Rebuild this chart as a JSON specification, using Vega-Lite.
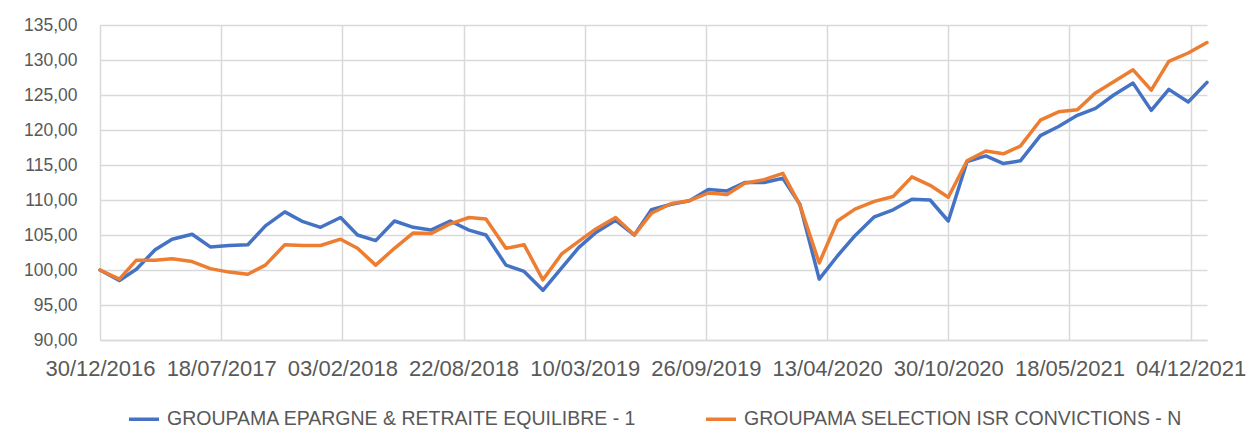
{
  "$schema": "https://vega.github.io/schema/vega-lite/v6.json",
  "width": 1107,
  "height": 315,
  "autosize": {"type": "none"},
  "padding": {"left": 100, "top": 25, "right": 42, "bottom": 93},
  "background": "white",
  "config": {"view": {"stroke": null}, "font": "Liberation Sans"},
  "data": {"values": [
    {"date": "2016-12-30T00:00", "s": "GROUPAMA EPARGNE & RETRAITE EQUILIBRE - 1", "v": 100.0},
    {"date": "2017-01-31T00:00", "s": "GROUPAMA EPARGNE & RETRAITE EQUILIBRE - 1", "v": 98.5},
    {"date": "2017-02-28T00:00", "s": "GROUPAMA EPARGNE & RETRAITE EQUILIBRE - 1", "v": 100.1},
    {"date": "2017-03-31T00:00", "s": "GROUPAMA EPARGNE & RETRAITE EQUILIBRE - 1", "v": 102.9},
    {"date": "2017-04-28T00:00", "s": "GROUPAMA EPARGNE & RETRAITE EQUILIBRE - 1", "v": 104.4},
    {"date": "2017-05-31T00:00", "s": "GROUPAMA EPARGNE & RETRAITE EQUILIBRE - 1", "v": 105.1},
    {"date": "2017-06-30T00:00", "s": "GROUPAMA EPARGNE & RETRAITE EQUILIBRE - 1", "v": 103.3},
    {"date": "2017-07-31T00:00", "s": "GROUPAMA EPARGNE & RETRAITE EQUILIBRE - 1", "v": 103.5},
    {"date": "2017-08-31T00:00", "s": "GROUPAMA EPARGNE & RETRAITE EQUILIBRE - 1", "v": 103.6},
    {"date": "2017-09-29T00:00", "s": "GROUPAMA EPARGNE & RETRAITE EQUILIBRE - 1", "v": 106.3},
    {"date": "2017-10-31T00:00", "s": "GROUPAMA EPARGNE & RETRAITE EQUILIBRE - 1", "v": 108.3},
    {"date": "2017-11-30T00:00", "s": "GROUPAMA EPARGNE & RETRAITE EQUILIBRE - 1", "v": 106.9},
    {"date": "2017-12-29T00:00", "s": "GROUPAMA EPARGNE & RETRAITE EQUILIBRE - 1", "v": 106.1},
    {"date": "2018-01-31T00:00", "s": "GROUPAMA EPARGNE & RETRAITE EQUILIBRE - 1", "v": 107.5},
    {"date": "2018-02-28T00:00", "s": "GROUPAMA EPARGNE & RETRAITE EQUILIBRE - 1", "v": 105.0},
    {"date": "2018-03-30T00:00", "s": "GROUPAMA EPARGNE & RETRAITE EQUILIBRE - 1", "v": 104.2},
    {"date": "2018-04-30T00:00", "s": "GROUPAMA EPARGNE & RETRAITE EQUILIBRE - 1", "v": 107.0},
    {"date": "2018-05-31T00:00", "s": "GROUPAMA EPARGNE & RETRAITE EQUILIBRE - 1", "v": 106.1},
    {"date": "2018-06-29T00:00", "s": "GROUPAMA EPARGNE & RETRAITE EQUILIBRE - 1", "v": 105.7},
    {"date": "2018-07-31T00:00", "s": "GROUPAMA EPARGNE & RETRAITE EQUILIBRE - 1", "v": 107.0},
    {"date": "2018-08-31T00:00", "s": "GROUPAMA EPARGNE & RETRAITE EQUILIBRE - 1", "v": 105.7},
    {"date": "2018-09-28T00:00", "s": "GROUPAMA EPARGNE & RETRAITE EQUILIBRE - 1", "v": 105.0},
    {"date": "2018-10-31T00:00", "s": "GROUPAMA EPARGNE & RETRAITE EQUILIBRE - 1", "v": 100.7},
    {"date": "2018-11-30T00:00", "s": "GROUPAMA EPARGNE & RETRAITE EQUILIBRE - 1", "v": 99.8},
    {"date": "2018-12-31T00:00", "s": "GROUPAMA EPARGNE & RETRAITE EQUILIBRE - 1", "v": 97.1},
    {"date": "2019-01-31T00:00", "s": "GROUPAMA EPARGNE & RETRAITE EQUILIBRE - 1", "v": 100.3},
    {"date": "2019-02-28T00:00", "s": "GROUPAMA EPARGNE & RETRAITE EQUILIBRE - 1", "v": 103.2},
    {"date": "2019-03-29T00:00", "s": "GROUPAMA EPARGNE & RETRAITE EQUILIBRE - 1", "v": 105.4},
    {"date": "2019-04-30T00:00", "s": "GROUPAMA EPARGNE & RETRAITE EQUILIBRE - 1", "v": 107.1},
    {"date": "2019-05-31T00:00", "s": "GROUPAMA EPARGNE & RETRAITE EQUILIBRE - 1", "v": 105.0},
    {"date": "2019-06-28T00:00", "s": "GROUPAMA EPARGNE & RETRAITE EQUILIBRE - 1", "v": 108.6},
    {"date": "2019-07-31T00:00", "s": "GROUPAMA EPARGNE & RETRAITE EQUILIBRE - 1", "v": 109.4},
    {"date": "2019-08-30T00:00", "s": "GROUPAMA EPARGNE & RETRAITE EQUILIBRE - 1", "v": 109.9},
    {"date": "2019-09-30T00:00", "s": "GROUPAMA EPARGNE & RETRAITE EQUILIBRE - 1", "v": 111.5},
    {"date": "2019-10-31T00:00", "s": "GROUPAMA EPARGNE & RETRAITE EQUILIBRE - 1", "v": 111.3},
    {"date": "2019-11-29T00:00", "s": "GROUPAMA EPARGNE & RETRAITE EQUILIBRE - 1", "v": 112.5},
    {"date": "2019-12-31T00:00", "s": "GROUPAMA EPARGNE & RETRAITE EQUILIBRE - 1", "v": 112.5},
    {"date": "2020-01-31T00:00", "s": "GROUPAMA EPARGNE & RETRAITE EQUILIBRE - 1", "v": 113.1},
    {"date": "2020-02-28T00:00", "s": "GROUPAMA EPARGNE & RETRAITE EQUILIBRE - 1", "v": 109.4},
    {"date": "2020-03-31T00:00", "s": "GROUPAMA EPARGNE & RETRAITE EQUILIBRE - 1", "v": 98.7},
    {"date": "2020-04-30T00:00", "s": "GROUPAMA EPARGNE & RETRAITE EQUILIBRE - 1", "v": 102.0},
    {"date": "2020-05-29T00:00", "s": "GROUPAMA EPARGNE & RETRAITE EQUILIBRE - 1", "v": 104.9},
    {"date": "2020-06-30T00:00", "s": "GROUPAMA EPARGNE & RETRAITE EQUILIBRE - 1", "v": 107.6},
    {"date": "2020-07-31T00:00", "s": "GROUPAMA EPARGNE & RETRAITE EQUILIBRE - 1", "v": 108.6},
    {"date": "2020-08-31T00:00", "s": "GROUPAMA EPARGNE & RETRAITE EQUILIBRE - 1", "v": 110.1},
    {"date": "2020-09-30T00:00", "s": "GROUPAMA EPARGNE & RETRAITE EQUILIBRE - 1", "v": 110.0},
    {"date": "2020-10-30T00:00", "s": "GROUPAMA EPARGNE & RETRAITE EQUILIBRE - 1", "v": 107.0},
    {"date": "2020-11-30T00:00", "s": "GROUPAMA EPARGNE & RETRAITE EQUILIBRE - 1", "v": 115.5},
    {"date": "2020-12-31T00:00", "s": "GROUPAMA EPARGNE & RETRAITE EQUILIBRE - 1", "v": 116.3},
    {"date": "2021-01-29T00:00", "s": "GROUPAMA EPARGNE & RETRAITE EQUILIBRE - 1", "v": 115.2},
    {"date": "2021-02-26T00:00", "s": "GROUPAMA EPARGNE & RETRAITE EQUILIBRE - 1", "v": 115.6},
    {"date": "2021-03-31T00:00", "s": "GROUPAMA EPARGNE & RETRAITE EQUILIBRE - 1", "v": 119.2},
    {"date": "2021-04-30T00:00", "s": "GROUPAMA EPARGNE & RETRAITE EQUILIBRE - 1", "v": 120.5},
    {"date": "2021-05-31T00:00", "s": "GROUPAMA EPARGNE & RETRAITE EQUILIBRE - 1", "v": 122.1},
    {"date": "2021-06-30T00:00", "s": "GROUPAMA EPARGNE & RETRAITE EQUILIBRE - 1", "v": 123.1},
    {"date": "2021-07-30T00:00", "s": "GROUPAMA EPARGNE & RETRAITE EQUILIBRE - 1", "v": 125.0},
    {"date": "2021-08-31T00:00", "s": "GROUPAMA EPARGNE & RETRAITE EQUILIBRE - 1", "v": 126.7},
    {"date": "2021-09-30T00:00", "s": "GROUPAMA EPARGNE & RETRAITE EQUILIBRE - 1", "v": 122.8},
    {"date": "2021-10-29T00:00", "s": "GROUPAMA EPARGNE & RETRAITE EQUILIBRE - 1", "v": 125.8},
    {"date": "2021-11-30T00:00", "s": "GROUPAMA EPARGNE & RETRAITE EQUILIBRE - 1", "v": 124.0},
    {"date": "2021-12-31T00:00", "s": "GROUPAMA EPARGNE & RETRAITE EQUILIBRE - 1", "v": 126.8},
    {"date": "2016-12-30T00:00", "s": "GROUPAMA SELECTION ISR CONVICTIONS - N", "v": 100.0},
    {"date": "2017-01-31T00:00", "s": "GROUPAMA SELECTION ISR CONVICTIONS - N", "v": 98.7},
    {"date": "2017-02-28T00:00", "s": "GROUPAMA SELECTION ISR CONVICTIONS - N", "v": 101.4},
    {"date": "2017-03-31T00:00", "s": "GROUPAMA SELECTION ISR CONVICTIONS - N", "v": 101.4},
    {"date": "2017-04-28T00:00", "s": "GROUPAMA SELECTION ISR CONVICTIONS - N", "v": 101.6},
    {"date": "2017-05-31T00:00", "s": "GROUPAMA SELECTION ISR CONVICTIONS - N", "v": 101.2},
    {"date": "2017-06-30T00:00", "s": "GROUPAMA SELECTION ISR CONVICTIONS - N", "v": 100.2},
    {"date": "2017-07-31T00:00", "s": "GROUPAMA SELECTION ISR CONVICTIONS - N", "v": 99.7},
    {"date": "2017-08-31T00:00", "s": "GROUPAMA SELECTION ISR CONVICTIONS - N", "v": 99.4},
    {"date": "2017-09-29T00:00", "s": "GROUPAMA SELECTION ISR CONVICTIONS - N", "v": 100.7},
    {"date": "2017-10-31T00:00", "s": "GROUPAMA SELECTION ISR CONVICTIONS - N", "v": 103.6},
    {"date": "2017-11-30T00:00", "s": "GROUPAMA SELECTION ISR CONVICTIONS - N", "v": 103.5},
    {"date": "2017-12-29T00:00", "s": "GROUPAMA SELECTION ISR CONVICTIONS - N", "v": 103.5},
    {"date": "2018-01-31T00:00", "s": "GROUPAMA SELECTION ISR CONVICTIONS - N", "v": 104.4},
    {"date": "2018-02-28T00:00", "s": "GROUPAMA SELECTION ISR CONVICTIONS - N", "v": 103.1},
    {"date": "2018-03-30T00:00", "s": "GROUPAMA SELECTION ISR CONVICTIONS - N", "v": 100.7},
    {"date": "2018-04-30T00:00", "s": "GROUPAMA SELECTION ISR CONVICTIONS - N", "v": 103.1},
    {"date": "2018-05-31T00:00", "s": "GROUPAMA SELECTION ISR CONVICTIONS - N", "v": 105.3},
    {"date": "2018-06-29T00:00", "s": "GROUPAMA SELECTION ISR CONVICTIONS - N", "v": 105.2},
    {"date": "2018-07-31T00:00", "s": "GROUPAMA SELECTION ISR CONVICTIONS - N", "v": 106.6},
    {"date": "2018-08-31T00:00", "s": "GROUPAMA SELECTION ISR CONVICTIONS - N", "v": 107.5},
    {"date": "2018-09-28T00:00", "s": "GROUPAMA SELECTION ISR CONVICTIONS - N", "v": 107.3},
    {"date": "2018-10-31T00:00", "s": "GROUPAMA SELECTION ISR CONVICTIONS - N", "v": 103.1},
    {"date": "2018-11-30T00:00", "s": "GROUPAMA SELECTION ISR CONVICTIONS - N", "v": 103.6},
    {"date": "2018-12-31T00:00", "s": "GROUPAMA SELECTION ISR CONVICTIONS - N", "v": 98.6},
    {"date": "2019-01-31T00:00", "s": "GROUPAMA SELECTION ISR CONVICTIONS - N", "v": 102.3},
    {"date": "2019-02-28T00:00", "s": "GROUPAMA SELECTION ISR CONVICTIONS - N", "v": 104.1},
    {"date": "2019-03-29T00:00", "s": "GROUPAMA SELECTION ISR CONVICTIONS - N", "v": 105.9},
    {"date": "2019-04-30T00:00", "s": "GROUPAMA SELECTION ISR CONVICTIONS - N", "v": 107.5},
    {"date": "2019-05-31T00:00", "s": "GROUPAMA SELECTION ISR CONVICTIONS - N", "v": 105.0},
    {"date": "2019-06-28T00:00", "s": "GROUPAMA SELECTION ISR CONVICTIONS - N", "v": 108.1},
    {"date": "2019-07-31T00:00", "s": "GROUPAMA SELECTION ISR CONVICTIONS - N", "v": 109.5},
    {"date": "2019-08-30T00:00", "s": "GROUPAMA SELECTION ISR CONVICTIONS - N", "v": 109.9},
    {"date": "2019-09-30T00:00", "s": "GROUPAMA SELECTION ISR CONVICTIONS - N", "v": 111.0},
    {"date": "2019-10-31T00:00", "s": "GROUPAMA SELECTION ISR CONVICTIONS - N", "v": 110.8},
    {"date": "2019-11-29T00:00", "s": "GROUPAMA SELECTION ISR CONVICTIONS - N", "v": 112.4},
    {"date": "2019-12-31T00:00", "s": "GROUPAMA SELECTION ISR CONVICTIONS - N", "v": 112.9},
    {"date": "2020-01-31T00:00", "s": "GROUPAMA SELECTION ISR CONVICTIONS - N", "v": 113.8},
    {"date": "2020-02-28T00:00", "s": "GROUPAMA SELECTION ISR CONVICTIONS - N", "v": 109.3},
    {"date": "2020-03-31T00:00", "s": "GROUPAMA SELECTION ISR CONVICTIONS - N", "v": 101.0},
    {"date": "2020-04-30T00:00", "s": "GROUPAMA SELECTION ISR CONVICTIONS - N", "v": 107.0},
    {"date": "2020-05-29T00:00", "s": "GROUPAMA SELECTION ISR CONVICTIONS - N", "v": 108.7},
    {"date": "2020-06-30T00:00", "s": "GROUPAMA SELECTION ISR CONVICTIONS - N", "v": 109.8},
    {"date": "2020-07-31T00:00", "s": "GROUPAMA SELECTION ISR CONVICTIONS - N", "v": 110.5},
    {"date": "2020-08-31T00:00", "s": "GROUPAMA SELECTION ISR CONVICTIONS - N", "v": 113.3},
    {"date": "2020-09-30T00:00", "s": "GROUPAMA SELECTION ISR CONVICTIONS - N", "v": 112.1},
    {"date": "2020-10-30T00:00", "s": "GROUPAMA SELECTION ISR CONVICTIONS - N", "v": 110.4},
    {"date": "2020-11-30T00:00", "s": "GROUPAMA SELECTION ISR CONVICTIONS - N", "v": 115.6},
    {"date": "2020-12-31T00:00", "s": "GROUPAMA SELECTION ISR CONVICTIONS - N", "v": 117.0},
    {"date": "2021-01-29T00:00", "s": "GROUPAMA SELECTION ISR CONVICTIONS - N", "v": 116.6},
    {"date": "2021-02-26T00:00", "s": "GROUPAMA SELECTION ISR CONVICTIONS - N", "v": 117.7},
    {"date": "2021-03-31T00:00", "s": "GROUPAMA SELECTION ISR CONVICTIONS - N", "v": 121.4},
    {"date": "2021-04-30T00:00", "s": "GROUPAMA SELECTION ISR CONVICTIONS - N", "v": 122.6},
    {"date": "2021-05-31T00:00", "s": "GROUPAMA SELECTION ISR CONVICTIONS - N", "v": 122.9},
    {"date": "2021-06-30T00:00", "s": "GROUPAMA SELECTION ISR CONVICTIONS - N", "v": 125.3},
    {"date": "2021-07-30T00:00", "s": "GROUPAMA SELECTION ISR CONVICTIONS - N", "v": 126.9},
    {"date": "2021-08-31T00:00", "s": "GROUPAMA SELECTION ISR CONVICTIONS - N", "v": 128.6},
    {"date": "2021-09-30T00:00", "s": "GROUPAMA SELECTION ISR CONVICTIONS - N", "v": 125.7},
    {"date": "2021-10-29T00:00", "s": "GROUPAMA SELECTION ISR CONVICTIONS - N", "v": 129.8},
    {"date": "2021-11-30T00:00", "s": "GROUPAMA SELECTION ISR CONVICTIONS - N", "v": 131.0},
    {"date": "2021-12-31T00:00", "s": "GROUPAMA SELECTION ISR CONVICTIONS - N", "v": 132.5}
  ]},
  "mark": {"type": "line", "strokeWidth": 3.5, "strokeJoin": "round", "strokeCap": "round"},
  "encoding": {
    "x": {
      "field": "date", "type": "temporal",
      "scale": {"domain": [{"year": 2016, "month": 12, "date": 30}, {"year": 2021, "month": 12, "date": 31}], "nice": false},
      "axis": {
        "values": [
          {"year": 2016, "month": 12, "date": 30},
          {"year": 2017, "month": 7, "date": 18},
          {"year": 2018, "month": 2, "date": 3},
          {"year": 2018, "month": 8, "date": 22},
          {"year": 2019, "month": 3, "date": 10},
          {"year": 2019, "month": 9, "date": 26},
          {"year": 2020, "month": 4, "date": 13},
          {"year": 2020, "month": 10, "date": 30},
          {"year": 2021, "month": 5, "date": 18},
          {"year": 2021, "month": 12, "date": 4}
        ],
        "format": "%d/%m/%Y",
        "title": null,
        "grid": true, "gridColor": "#d9d9d9", "gridWidth": 1.5,
        "domain": true, "domainColor": "#d9d9d9", "domainWidth": 1.5,
        "ticks": false,
        "labelFontSize": 22, "labelColor": "#595959", "labelPadding": 18,
        "labelOverlap": false, "labelFlush": false, "labelBound": false
      }
    },
    "y": {
      "field": "v", "type": "quantitative",
      "scale": {"domain": [90, 135], "nice": false, "zero": false},
      "axis": {
        "values": [90, 95, 100, 105, 110, 115, 120, 125, 130, 135],
        "labelExpr": "replace(format(datum.value, '.2f'), '.', ',')",
        "title": null,
        "grid": true, "gridColor": "#d9d9d9", "gridWidth": 1.5,
        "domain": false, "ticks": false,
        "labelFontSize": 17.5, "labelColor": "#595959", "labelPadding": 23
      }
    },
    "color": {
      "field": "s", "type": "nominal",
      "scale": {"domain": ["GROUPAMA EPARGNE & RETRAITE EQUILIBRE - 1", "GROUPAMA SELECTION ISR CONVICTIONS - N"], "range": ["#4472C4", "#ED7D31"]},
      "legend": {
        "orient": "none", "legendX": 27, "legendY": 377,
        "direction": "horizontal", "title": null,
        "symbolType": "stroke", "symbolSize": 900, "symbolStrokeWidth": 3.5,
        "labelFontSize": 19.5, "labelColor": "#595959", "labelLimit": 0,
        "columnPadding": 62, "labelOffset": 6
      }
    }
  }
}
